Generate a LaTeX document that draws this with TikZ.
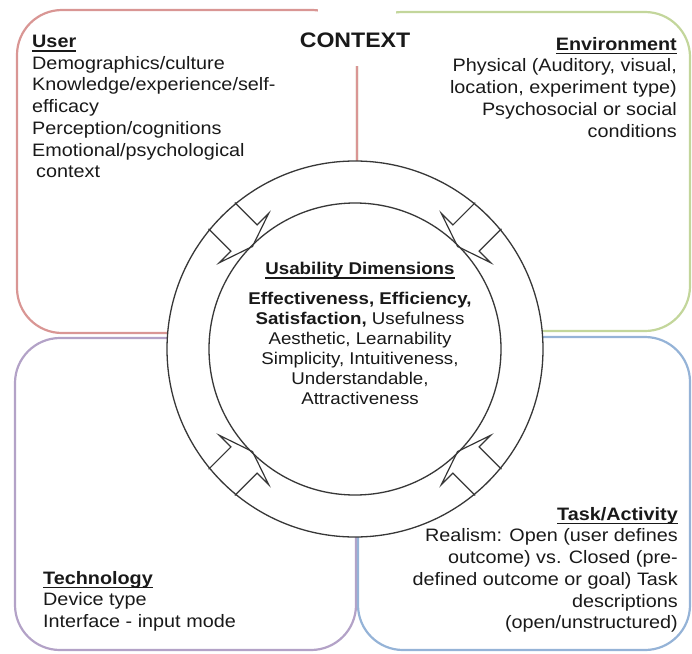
\documentclass[tikz,border=0pt]{standalone}
\usepackage{fontspec}
\setmainfont{Liberation Sans}[FakeStretch=1.1]
\usetikzlibrary{positioning}

\definecolor{usercol}{RGB}{217,150,148}
\definecolor{envcol}{RGB}{195,214,155}
\definecolor{techcol}{RGB}{179,162,199}
\definecolor{taskcol}{RGB}{149,179,215}
\definecolor{ringcol}{RGB}{55,55,55}
\definecolor{txtcol}{RGB}{25,25,25}

% bold heading with a rule just under the baseline
\newcommand{\ulhead}[1]{\setbox0\hbox{\textbf{#1}}\rlap{\rule[-4pt]{\wd0}{1.4pt}}\box0}

\tikzset{
    ctxbox/.style={line width=2.2pt, rounded corners=45pt},
    ringline/.style={draw=ringcol, line width=1.3pt},
    ringarrow/.style={draw=ringcol, line width=1.2pt, line join=miter},
    sidetext/.style={inner sep=0pt, text=txtcol, font=\fontsize{18}{21.7}\selectfont},
    midtext/.style={inner sep=0pt, text=txtcol, align=center, font=\fontsize{17}{20}\selectfont}
}

\begin{document}
\begin{tikzpicture}[x=1pt,y=-1pt]
    \useasboundingbox (0,0) rectangle (692,653);
    % context boxes
    \draw [ctxbox, draw=envcol] (357,12) rectangle (690,331);
    \draw [ctxbox, draw=usercol] (17,10) rectangle (357,333);
    \draw [ctxbox, draw=techcol] (15,338) rectangle (356,650);
    \draw [ctxbox, draw=taskcol] (358,337) rectangle (690,650);
    \fill [white] (318,0) rectangle (396,66);
    % ring
    \filldraw [ringline, fill=white] (355,349) circle (188pt);
    \draw [ringline] (355,349) circle (146pt);
    % arrows into the ring
    \draw [ringarrow, shift={(355,349)}, rotate=45] (188.5,18.5) -- (157,18.5) -- (157,35) -- (145,0) -- (157,-35) -- (157,-18.5) -- (188.5,-18.5);
    \draw [ringarrow, shift={(355,349)}, rotate=135] (188.5,18.5) -- (157,18.5) -- (157,35) -- (145,0) -- (157,-35) -- (157,-18.5) -- (188.5,-18.5);
    \draw [ringarrow, shift={(355,349)}, rotate=225] (188.5,18.5) -- (157,18.5) -- (157,35) -- (145,0) -- (157,-35) -- (157,-18.5) -- (188.5,-18.5);
    \draw [ringarrow, shift={(355,349)}, rotate=315] (188.5,18.5) -- (157,18.5) -- (157,35) -- (145,0) -- (157,-35) -- (157,-18.5) -- (188.5,-18.5);
    % labels
    \node [sidetext, anchor=north, font=\fontsize{21}{24}\selectfont\bfseries] (context) at (355,33) {CONTEXT};
    \node [sidetext, anchor=north west, align=left] (user) at (32,35) {\ulhead{User}\\Demographics/culture\\Knowledge/experience/self-\\efficacy\\Perception/cognitions\\Emotional/psychological\\\hspace*{4pt}context};
    \node [sidetext, anchor=north east, align=right] (env) at (677,37) {\ulhead{Environment}\\Physical (Auditory, visual,\\location, experiment type)\\Psychosocial or social\\conditions};
    \node [sidetext, anchor=north west, align=left] (tech) at (43,571) {\ulhead{Technology}\\Device type\\Interface - input mode};
    \node [sidetext, anchor=north east, align=right] (task) at (678,507) {\ulhead{Task/Activity}\\Realism: Open (user defines\\outcome) vs. Closed (pre-\\defined outcome or goal) Task\\descriptions\\(open/unstructured)};
    \node [midtext, anchor=north] (usedim) at (360,262) {\ulhead{Usability Dimensions}};
    \node [midtext, below=13.5pt of usedim] (dims) {\textbf{Effectiveness, Efficiency,}\\\textbf{Satisfaction,} Usefulness\\Aesthetic, Learnability\\Simplicity, Intuitiveness,\\Understandable,\\Attractiveness};
\end{tikzpicture}
\end{document}
